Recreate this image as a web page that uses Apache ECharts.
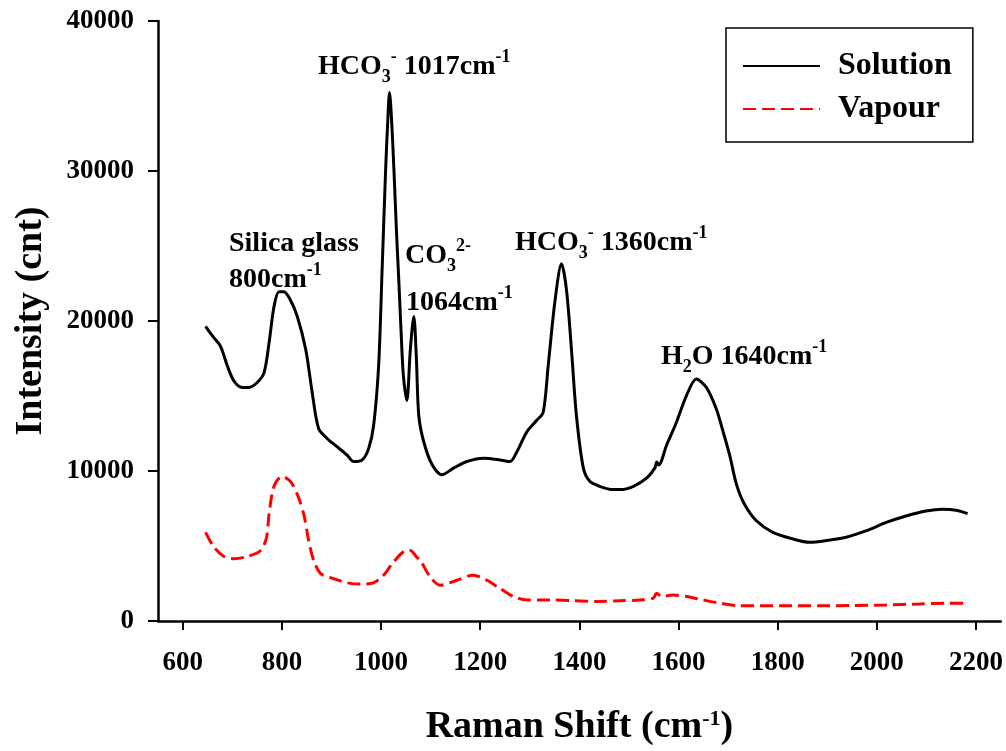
<!DOCTYPE html>
<html>
<head>
<meta charset="utf-8">
<script src="https://cdn.jsdelivr.net/npm/echarts@6/dist/echarts.min.js"></script>
<style>html,body{margin:0;padding:0;background:#fff;}#c{width:1006px;height:751px;}</style>
</head>
<body>
<div id="c"></div>
<script>
const seriesNames = ['Solution', 'Vapour'];
const xTicks = [600, 800, 1000, 1200, 1400, 1600, 1800, 2000, 2200];
const yTicks = [0, 10000, 20000, 30000, 40000];

const solutionX = [646,653,663,676,690,703,720,733,750,764,774,784,794,804,817,831,848,861,874,891,911,931,945,962,975,985,995,1002,1009,1013,1017,1021,1026,1031,1036,1041,1045,1052,1059,1066,1071,1076,1086,1103,1123,1146,1173,1207,1240,1260,1274,1294,1314,1327,1337,1351,1364,1374,1384,1394,1408,1421,1441,1468,1482,1509,1536,1552,1556,1560,1576,1596,1616,1636,1656,1676,1690,1703,1717,1733,1757,1790,1831,1864,1898,1938,1979,2019,2059,2099,2133,2160,2183];
const solutionY = [19640,19310,18870,18320,17000,16010,15570,15570,15900,16560,18540,20960,21950,21950,21400,20300,18100,15240,12830,12170,11620,11070,10630,10740,11510,13050,17000,23370,29960,33000,35240,33500,30000,26000,22500,18800,16340,14700,18100,20300,17660,13700,11950,10410,9750,10190,10630,10850,10740,10630,11290,12610,13380,13920,17000,21400,23810,22060,18100,13700,10190,9310,8980,8760,8760,8980,9540,10190,10600,10400,11730,13270,15030,16130,15570,14150,12610,11070,9090,7780,6680,5910,5470,5250,5360,5580,6020,6570,7000,7330,7450,7380,7160];

const vapourX = [646,663,683,703,730,757,769,774,784,800,817,831,844,854,864,878,904,931,958,985,1005,1025,1052,1059,1072,1079,1099,1119,1153,1186,1213,1240,1267,1294,1341,1388,1441,1482,1522,1549,1556,1566,1589,1616,1650,1683,1717,1750,1817,1885,1952,2019,2086,2140,2180];
const vapourY = [5910,4920,4300,4150,4300,4700,5580,7120,8980,9640,9310,8440,7120,5360,4040,3160,2830,2550,2460,2550,3050,3930,4700,4700,4260,4040,2950,2390,2720,3050,2720,2170,1630,1400,1400,1360,1300,1350,1400,1520,1850,1630,1730,1630,1400,1190,1030,1010,1010,1010,1030,1070,1140,1190,1190];

const FONT = '"Liberation Serif", "Times New Roman", serif';
const pair = (xs, ys) => xs.map((x, i) => [x, ys[i]]);

const rich = {
  n: {fontSize: 28, fontWeight: 'bold', fontFamily: FONT, color: '#000', lineHeight: 38, verticalAlign: 'middle'},
  sub: {fontSize: 18, fontWeight: 'bold', fontFamily: FONT, color: '#000', lineHeight: 15, verticalAlign: 'bottom'},
  sup: {fontSize: 18, fontWeight: 'bold', fontFamily: FONT, color: '#000', lineHeight: 15, verticalAlign: 'top'}
};
function ann(x, y, text) {
  return {type: 'text', x: x, y: y, z: 100,
    style: {text: text, rich: rich, verticalAlign: 'middle', align: 'left', font: 'bold 28px ' + FONT}};
}

const chart = echarts.init(document.getElementById('c'), null, {renderer: 'canvas'});
chart.setOption({
  animation: false,
  backgroundColor: '#fff',
  grid: {left: 158, right: 3, top: 21, bottom: 123, containLabel: false},
  legend: {
    left: 726, top: 28, orient: 'vertical',
    padding: [22, 21, 17, 16], itemGap: 11, itemWidth: 77, itemHeight: 14,
    borderColor: '#000', borderWidth: 1.5, backgroundColor: '#fff',
    data: seriesNames,
    itemStyle: {opacity: 0},
    textStyle: {fontSize: 32, fontWeight: 'bold', fontFamily: FONT, color: '#000', padding: [0, 0, 0, 13], lineHeight: 32}
  },
  xAxis: {
    type: 'value', min: 550, max: 2250,
    name: 'Raman Shift (cm{sup|-1})', nameLocation: 'middle', nameGap: 87,
    nameTextStyle: {fontSize: 38, fontWeight: 'bold', fontFamily: FONT, color: '#000',
      rich: {sup: {fontSize: 22, fontWeight: 'bold', fontFamily: FONT, color: '#000', lineHeight: 18, verticalAlign: 'top'}}},
    axisLine: {lineStyle: {color: '#000', width: 2.5}},
    axisTick: {show: true, length: 9, inside: false, customValues: xTicks, lineStyle: {color: '#000', width: 2}},
    axisLabel: {customValues: xTicks, margin: 29, fontSize: 27, fontWeight: 'bold', fontFamily: FONT, color: '#000',
      formatter: v => String(v)},
    splitLine: {show: false}
  },
  yAxis: {
    type: 'value', min: yTicks[0], max: yTicks[yTicks.length - 1], interval: 10000,
    name: 'Intensity (cnt)', nameLocation: 'middle', nameRotate: 90, nameGap: 108,
    nameTextStyle: {fontSize: 38, fontWeight: 'bold', fontFamily: FONT, color: '#000'},
    axisLine: {show: true, lineStyle: {color: '#000', width: 2.5}},
    axisTick: {show: true, length: 10, inside: false, lineStyle: {color: '#000', width: 2}},
    axisLabel: {margin: 24, fontSize: 27, fontWeight: 'bold', fontFamily: FONT, color: '#000',
      formatter: v => String(v)},
    splitLine: {show: false}
  },
  series: [
    {name: seriesNames[0], type: 'line', data: pair(solutionX, solutionY), showSymbol: false, symbol: 'none',
     smooth: 0.3, lineStyle: {color: '#000', width: 3}, itemStyle: {color: '#000'}},
    {name: seriesNames[1], type: 'line', data: pair(vapourX, vapourY), showSymbol: false, symbol: 'none',
     smooth: 0.3, lineStyle: {color: '#ff0000', width: 3, type: [13, 6]}, itemStyle: {color: '#ff0000'}}
  ],
  graphic: [
    ann(318, 67, '{n|HCO}{sub|3}{sup|-}{n| 1017cm}{sup|-1}'),
    ann(229, 244, '{n|Silica glass}'),
    ann(229, 280, '{n|800cm}{sup|-1}'),
    ann(405, 256, '{n|CO}{sub|3}{sup|2-}'),
    ann(406, 303, '{n|1064cm}{sup|-1}'),
    ann(515, 243, '{n|HCO}{sub|3}{sup|-}{n| 1360cm}{sup|-1}'),
    ann(661, 357, '{n|H}{sub|2}{n|O 1640cm}{sup|-1}')
  ]
});
</script>
</body>
</html>
